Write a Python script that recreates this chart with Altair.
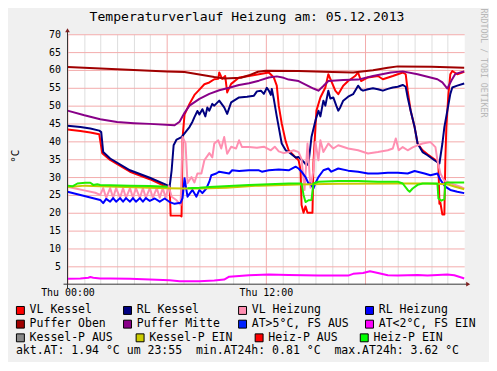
import altair as alt
import pandas as pd

FONT = "DejaVu Sans Mono"
W, H = 400, 252

# ---------------- data (time in hours since Thu 05.12.2013 00:00, values in °C) ----------------
vl_kessel_t = [0, 0.78, 1.38, 1.92, 2.10, 2.58, 3.78, 4.98, 5.88, 6.18, 6.24, 6.84, 6.90, 6.96, 7.08, 7.38, 7.68,
               7.98, 8.28, 8.58, 8.88, 9.12, 9.18, 9.36, 9.54, 9.66, 9.90, 10.38, 10.98, 11.58, 12.18, 12.48, 12.66,
               12.78, 12.96, 13.20, 13.38, 13.80, 13.98, 14.10, 14.16, 14.28, 14.40, 14.52, 14.82, 14.88, 15.00,
               15.06, 15.30, 15.60, 15.78, 15.96, 16.20, 16.38, 16.68, 16.98, 17.40, 17.58, 17.76, 18.18, 18.78,
               19.08, 19.68, 20.28, 20.46, 20.58, 20.76, 21.00, 21.18, 21.48, 21.78, 22.20, 22.38, 22.44, 22.50,
               22.56, 22.68, 22.80, 22.86, 22.92, 23.04, 23.16, 23.28, 23.58, 24.00]
vl_kessel = [43.3, 42.9, 42.5, 42.0, 36.7, 34.8, 31.5, 29.4, 27.5, 27.2, 19.2, 19.2, 19.0, 41.0, 47.5, 50.5, 53.0,
             54.5, 56.0, 56.5, 57.4, 57.5, 59.3, 57.5, 58.3, 53.7, 56.1, 57.9, 58.3, 58.8, 59.3, 57.9, 55.6,
             50.0, 45.0, 40.0, 37.5, 35.5, 34.7, 32.0, 22.2, 20.0, 21.8, 20.0, 20.0, 34.0, 44.0,
             48.6, 52.3, 55.1, 58.8, 56.9, 54.2, 53.2, 55.6, 56.9, 58.3, 59.3, 56.9, 57.9, 58.3,
             57.4, 58.3, 59.3, 58.8, 54.2, 48.6, 44.0, 39.4, 37.5, 36.4, 35.0, 34.3, 33.5, 22.5,
             22.8, 19.5, 19.5, 35.0, 44.0, 53.0, 58.8, 59.7, 58.8, 59.5]

rl_kessel_t = [0, 0.78, 1.38, 1.92, 2.04, 2.16, 2.58, 3.78, 4.98, 5.88, 6.18, 6.30, 6.42, 6.60, 6.90, 7.14, 7.38,
               7.56, 7.68, 7.86, 7.98, 8.16, 8.34, 8.46, 8.58, 8.76, 8.88, 9.18, 9.48, 9.66, 9.90, 10.38, 10.86,
               11.28, 11.46, 11.70, 11.88, 12.06, 12.18, 12.30, 12.36, 12.48, 12.66, 12.78, 12.96, 13.20, 13.38,
               13.80, 13.98, 14.28, 14.46, 14.58, 14.76, 15.00, 15.18, 15.30, 15.48, 15.60, 15.78, 15.90, 16.08,
               16.26, 16.38, 16.50, 16.68, 16.98, 17.28, 17.58, 17.76, 17.88, 18.18, 18.48, 18.78, 19.08, 19.38,
               19.68, 19.98, 20.28, 20.46, 20.58, 20.76, 21.00, 21.18, 21.48, 21.78, 22.20, 22.50, 22.68, 22.80,
               22.98, 23.16, 23.28, 23.58, 24.00]
rl_kessel = [44.4, 44.0, 43.6, 43.0, 42.6, 37.0, 35.2, 31.9, 29.8, 28.0, 27.4, 31.9, 38.9, 40.5, 41.2, 42.6, 44.0,
             45.5, 46.8, 48.5, 47.5, 49.0, 47.0, 49.5, 48.6, 50.5, 50.0, 51.4, 49.5, 47.7, 50.9, 52.3, 52.5,
             52.8, 54.0, 54.2, 53.3, 55.0, 54.2, 53.0, 54.7, 51.9, 47.0, 44.0, 39.4, 37.5, 37.0,
             35.5, 35.6, 34.3, 33.3, 33.9, 41.2, 45.8, 48.6, 47.0, 51.4, 50.0, 54.2, 52.0, 52.3,
             50.0, 48.6, 49.5, 51.4, 52.5, 53.2, 55.6, 54.5, 54.2, 54.6, 54.9, 54.6, 54.2, 54.7,
             55.1, 55.3, 55.8, 55.3, 52.3, 48.6, 44.0, 39.4, 37.0, 36.1, 34.7, 33.8, 39.4, 44.0,
             48.6, 53.3, 55.1, 55.6, 56.2]

vl_heizung_t = [0, 0.48, 1.08, 1.68, 1.98, 2.16, 2.34, 2.58, 2.76, 2.94, 3.18, 3.36, 3.54, 3.78, 3.96, 4.14, 4.38,
                4.56, 4.74, 4.98, 5.16, 5.40, 5.58, 5.76, 5.94, 6.12, 6.30, 6.60, 6.84, 6.96, 7.14, 7.26, 7.50,
                7.68, 7.86, 8.10, 8.28, 8.58, 8.76, 8.88, 9.12, 9.30, 9.48, 9.66, 9.90, 10.20, 10.38, 10.56,
                10.98, 11.46, 11.88, 12.30, 12.54, 12.78, 13.08, 13.38, 13.68, 13.98, 14.16, 14.34, 14.52, 14.70,
                14.88, 15.00, 15.18, 15.30, 15.48, 15.78, 16.08, 16.38, 16.98, 17.58, 18.18, 18.78, 19.38, 19.68,
                19.86, 20.04, 20.28, 20.58, 20.88, 21.18, 21.48, 21.96, 22.26, 22.38, 22.56, 22.80, 23.16, 23.76,
                24.00]
vl_heizung = [27.3, 26.8, 26.2, 25.6, 25.0, 26.9, 24.2, 26.9, 24.2, 26.9, 24.2, 26.9, 24.2, 26.9, 24.2, 26.9, 24.2,
              26.9, 24.2, 26.9, 24.2, 26.9, 24.2, 26.9, 24.2, 27.5, 24.5, 23.5, 22.2, 41.2, 39.5, 28.3, 30.0,
              28.5, 31.0, 31.0, 34.7, 36.7, 35.5, 39.4, 40.3, 38.0, 41.2, 36.5, 38.5, 38.0, 40.3, 38.4,
              38.4, 38.2, 38.5, 37.5, 38.5, 37.2, 36.7, 37.0, 37.5, 37.0, 35.0, 26.4, 39.4, 27.0,
              32.0, 39.8, 34.7, 40.3, 37.0, 39.4, 38.0, 38.9, 38.0, 37.5, 36.6, 37.0, 37.5, 38.0,
              40.8, 37.5, 38.4, 37.5, 38.3, 38.9, 39.4, 39.8, 38.4, 34.7, 31.0, 29.0, 28.3, 27.3,
              26.8]

rl_heizung_t = [0, 0.78, 1.38, 1.98, 2.16, 2.34, 2.58, 2.76, 2.94, 3.18, 3.36, 3.54, 3.78, 3.96, 4.14, 4.38, 4.56,
                4.74, 4.98, 5.28, 5.58, 5.88, 6.18, 6.48, 6.84, 6.96, 7.08, 7.26, 7.56, 7.80, 7.98, 8.16, 8.40,
                8.58, 8.70, 9.00, 9.18, 9.78, 9.96, 10.38, 10.98, 11.58, 11.76, 12.18, 12.78, 13.38, 13.80, 13.98,
                14.16, 14.40, 14.58, 14.70, 14.88, 15.00, 15.18, 15.48, 15.78, 15.96, 16.38, 16.98, 17.58, 18.18,
                18.78, 19.38, 19.98, 20.58, 21.00, 21.60, 21.96, 22.38, 22.56, 22.86, 23.16, 23.58, 24.00]
rl_heizung = [25.9, 25.0, 24.3, 23.6, 22.7, 23.9, 23.1, 24.1, 23.1, 24.1, 23.1, 24.1, 23.1, 24.1, 23.1, 24.1, 23.1,
              24.1, 23.3, 24.0, 23.1, 24.0, 23.0, 22.5, 22.8, 24.1, 29.7, 24.5, 26.4, 24.5, 26.4, 25.5, 26.8,
              28.7, 30.5, 31.0, 31.5, 31.0, 31.9, 31.7, 31.9, 31.9, 31.5, 31.9, 32.1, 31.9, 32.9, 32.4,
              31.5, 30.0, 28.2, 28.2, 26.8, 28.3, 30.0, 31.9, 32.4, 31.5, 32.4, 31.8, 31.5, 31.0,
              31.0, 31.2, 31.2, 31.0, 31.7, 31.0, 30.5, 31.0, 29.2, 27.3, 26.4, 25.9, 25.5]

puffer_oben_t = [0, 3.00, 6.00, 7.08, 7.98, 8.88, 9.48, 10.50, 10.98, 11.52, 12.00, 13.98, 16.02, 17.28, 18.48,
                 19.38, 19.98, 22.02, 24.00]
puffer_oben = [60.8, 60.2, 59.6, 59.4, 58.7, 58.0, 57.6, 57.8, 58.5, 59.5, 59.8, 59.7, 59.4, 59.3, 59.9,
               60.6, 61.0, 60.9, 60.6]

puffer_mitte_t = [0, 1.02, 1.98, 3.00, 4.02, 4.98, 6.48, 6.78, 7.08, 7.38, 7.98, 8.58, 9.18, 9.78, 10.38, 10.98,
                  11.58, 12.18, 12.66, 13.08, 13.38, 13.98, 14.58, 14.88, 15.18, 15.48, 15.78, 16.68, 17.58, 18.48,
                  19.56, 20.28, 21.18, 22.38, 22.68, 22.98, 23.28, 23.46, 24.00]
puffer_mitte = [48.6, 47.3, 46.2, 45.4, 45.1, 44.9, 44.5, 45.5, 48.0, 50.0, 51.9, 53.3, 54.3, 55.0, 55.8, 56.3,
                57.0, 57.9, 58.2, 57.8, 57.3, 56.9, 55.5, 54.8, 54.2, 55.5, 56.9, 57.2, 57.3, 58.3,
                59.3, 59.6, 58.8, 57.4, 56.5, 54.8, 57.5, 58.9, 59.6]

aussen_t = [0, 0.78, 1.26, 1.38, 1.56, 1.98, 2.58, 3.78, 4.98, 6.18, 6.78, 7.98, 8.88, 9.48, 9.78, 10.38, 10.98,
            12.18, 13.38, 15.18, 16.98, 17.28, 17.88, 18.30, 18.78, 19.38, 19.98, 21.18, 21.78, 22.98, 23.40,
            23.88, 24.00]
aussen = [1.5, 1.6, 1.8, 2.0, 1.8, 1.6, 1.6, 1.5, 1.3, 1.1, 0.85, 0.85, 1.0, 1.3, 2.1, 2.3, 2.5,
          2.7, 2.6, 2.4, 2.4, 2.9, 3.15, 3.6, 3.15, 2.5, 2.4, 2.6, 2.4, 2.7, 2.5,
          1.8, 1.6]

kessel_p_t = [0, 1.08, 1.98, 6.06, 7.08, 7.98, 9.60, 11.58, 13.98, 16.38, 19.98, 21.78, 22.98, 23.46, 24.00]
kessel_p = [27.2, 27.6, 27.4, 26.9, 26.8, 26.8, 27.0, 27.6, 27.9, 28.1, 28.2, 28.2, 28.0, 27.3, 26.6]

heiz_p1_t = [0, 0.30, 0.60, 1.08, 1.38, 1.56, 1.80, 1.98, 3.78, 4.98, 6.06]
heiz_p1 = [27.6, 27.4, 28.2, 28.4, 28.4, 27.8, 28.0, 27.8, 27.6, 27.5, 27.3]
heiz_p2_t = [7.26, 7.98, 8.58, 9.78, 10.98, 12.18, 13.38, 14.16, 14.28, 14.40, 14.58, 14.76, 14.88, 15.18, 16.38,
             17.58, 18.78, 19.98, 20.28, 20.58, 20.70, 20.88, 21.18, 21.48, 22.38, 22.44, 22.62, 22.80, 22.86,
             22.98, 24.00]
heiz_p2 = [26.9, 27.0, 27.2, 27.5, 27.8, 28.0, 28.2, 28.2, 25.0, 23.0, 23.5, 23.6, 28.2, 28.7, 28.9,
           28.9, 28.7, 28.7, 28.2, 26.4, 25.9, 26.8, 27.8, 28.2, 28.2, 24.0, 23.4, 23.8, 28.3,
           28.5, 28.5]

legend_labels = ["VL Kessel", "RL Kessel", "VL Heizung", "RL Heizung",
                 "Puffer Oben", "Puffer Mitte", "AT>5°C, FS AUS", "AT<2°C, FS EIN",
                 "Kessel-P AUS", "Kessel-P EIN", "Heiz-P AUS", "Heiz-P EIN"]
legend_colors = ["#ff0000", "#000080", "#ff8fb1", "#0000ff",
                 "#a00000", "#880088", "#0022ff", "#ff00ff",
                 "#888888", "#cccc00", "#ff0000", "#00ff00"]
akt_at, akt_time, min_at, max_at = 1.94, "23:55", 0.81, 3.62

# ---------------- layout constants (pixels relative to the plot origin) ----------------
row_y = [278.5, 292.3, 306.1]
sq_x_rows = [[-47.5, 60.5, 176.5, 304.5], [-47.5, 60.5, 176.5, 304.5], [-47.5, 73.2, 193.2, 299.2]]

MAJOR = "#f3abab"
MINOR = "#dedede"

x_enc = alt.X("t:Q", scale=alt.Scale(domain=[0, 24], nice=False, zero=False),
              axis=alt.Axis(values=list(range(0, 24)), grid=True,
                            gridColor={"condition": {"test": "datum.value % 6 === 0", "value": MAJOR},
                                       "value": MINOR},
                            gridWidth=1, ticks=False, domain=False, title=None,
                            labelExpr="datum.value === 0 ? 'Thu 00:00' : (datum.value === 12 ? 'Thu 12:00' : '')",
                            labelFont=FONT, labelFontSize=10, labelColor="#000000", labelPadding=3,
                            labelFlush=False, labelOverlap=False))
y_enc = alt.Y("v:Q", scale=alt.Scale(domain=[0, 70], nice=False, zero=False),
              axis=alt.Axis(values=list(range(5, 75, 5)), grid=True, gridColor=MAJOR, gridWidth=1,
                            ticks=False, domain=False, title=None,
                            labelFont=FONT, labelFontSize=10, labelColor="#000000", labelPadding=7,
                            labelFlush=False, labelOverlap=False))


def line(t, v, color, width=2.0):
    df = pd.DataFrame({"t": t, "v": v})
    return alt.Chart(df).mark_line(color=color, strokeWidth=width, strokeJoin="round",
                                   interpolate="linear").encode(x=x_enc, y=y_enc)


green_df = pd.concat([pd.DataFrame({"t": heiz_p1_t, "v": heiz_p1, "seg": "a"}),
                      pd.DataFrame({"t": heiz_p2_t, "v": heiz_p2, "seg": "b"})])
green = alt.Chart(green_df).mark_line(color="#22ee00", strokeWidth=2, strokeJoin="round").encode(
    x=x_enc, y=y_enc, detail="seg:N")

layers = [
    line(vl_kessel_t, vl_kessel, "#ff0000"),
    line(rl_kessel_t, rl_kessel, "#000080"),
    line(vl_heizung_t, vl_heizung, "#ff8fb1"),
    line(rl_heizung_t, rl_heizung, "#0000ff"),
    line(puffer_oben_t, puffer_oben, "#a00000"),
    line(puffer_mitte_t, puffer_mitte, "#880088"),
    line(aussen_t, aussen, "#ff00ff"),
    line(kessel_p_t, kessel_p, "#c8c800"),
    green,
]

dummy = pd.DataFrame({"d": [0]})
AX = "#333333"
ARROW = "#7f1f1f"
NB2 = "\u00a0\u00a0"
info_text = (f"akt.AT: {akt_at:.2f} °C um {akt_time}{NB2}min.AT24h: {min_at:.2f} °C"
             f"{NB2}max.AT24h: {max_at:.2f} °C").replace(" ", "\u00a0")

layers += [
    alt.Chart(dummy).mark_rule(color=AX, strokeWidth=1).encode(
        x=alt.value(-4), x2=alt.value(W + 3), y=alt.value(H)),
    alt.Chart(dummy).mark_rule(color=AX, strokeWidth=1).encode(
        x=alt.value(0), y=alt.value(H + 4), y2=alt.value(-3)),
    alt.Chart(dummy).mark_point(shape="triangle-right", filled=True, size=22, color=ARROW, opacity=1).encode(
        x=alt.value(W + 4), y=alt.value(H)),
    alt.Chart(dummy).mark_point(shape="triangle-up", filled=True, size=22, color=ARROW, opacity=1).encode(
        x=alt.value(0), y=alt.value(-4)),
    alt.Chart(dummy).mark_text(text="Temperaturverlauf Heizung am: 05.12.2013", font=FONT, fontSize=13.2,
                               align="center", baseline="middle", color="#000000").encode(
        x=alt.value(181), y=alt.value(-17)),
    alt.Chart(dummy).mark_text(text="°C", font=FONT, fontSize=11, angle=270,
                               align="center", baseline="middle", color="#000000").encode(
        x=alt.value(-52), y=alt.value(123)),
    alt.Chart(dummy).mark_text(text="RRDTOOL / TOBI OETIKER", font=FONT, fontSize=8.3, angle=90,
                               align="center", baseline="middle", color="#b8b8b8").encode(
        x=alt.value(419), y=alt.value(29)),
]

# legend
leg_rows = []
for i, (lab, col) in enumerate(zip(legend_labels, legend_colors)):
    r, c = divmod(i, 4)
    sx = sq_x_rows[r][c]
    leg_rows.append({"label": lab, "color": col, "sx": sx, "tx": sx + 9.3, "y": row_y[r]})
leg_df = pd.DataFrame(leg_rows)

layers += [
    alt.Chart(leg_df).mark_point(shape="square", filled=True, size=64, stroke="#000000", strokeWidth=1,
                                 opacity=1).encode(
        x=alt.X("sx:Q", scale=None, axis=None), y=alt.Y("y:Q", scale=None, axis=None),
        fill=alt.Fill("color:N", scale=None, legend=None)),
    alt.Chart(leg_df).mark_text(font=FONT, fontSize=11.6, align="left", baseline="middle", color="#000000").encode(
        x=alt.X("tx:Q", scale=None, axis=None), y=alt.Y("y:Q", scale=None, axis=None), text="label:N"),
    alt.Chart(dummy).mark_text(text=info_text, font=FONT, fontSize=11.6, align="left", baseline="middle",
                               color="#000000").encode(
        x=alt.value(-52), y=alt.value(319.5)),
]

chart = alt.layer(*layers).properties(
    width=W, height=H,
    padding={"left": 60, "top": 25, "right": 25, "bottom": 77},
    autosize=alt.AutoSizeParams(type="none"),
    background="#f0f0f0",
).configure_view(fill="#ffffff", stroke="transparent")

chart.save("out.html", embed_options={"renderer": "svg", "actions": False})
